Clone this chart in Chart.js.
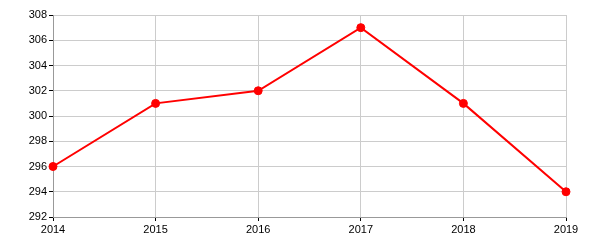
<!DOCTYPE html>
<html>
<head>
<meta charset="utf-8">
<script src="https://cdn.jsdelivr.net/npm/chart.js@4"></script>
<style>
  html, body { margin: 0; padding: 0; background: #fff; }
  #wrap { width: 600px; height: 250px; }
</style>
</head>
<body>
<div id="wrap"><canvas id="myChart"></canvas></div>
<script>
const years = ['2014', '2015', '2016', '2017', '2018', '2019'];
const values = [296, 301, 302, 307, 301, 294];
const yMin = 292;
const yMax = 308;
const yStep = 2;

const ctx = document.getElementById('myChart');

new Chart(ctx, {
  type: 'line',
  data: {
    labels: years,
    datasets: [{
      data: values,
      borderColor: '#ff0000',
      backgroundColor: '#ff0000',
      borderWidth: 2,
      pointRadius: 4,
      pointBorderWidth: 1,
      pointHoverRadius: 4,
      fill: false,
      tension: 0
    }]
  },
  options: {
    responsive: true,
    maintainAspectRatio: false,
    animation: false,
    layout: {
      padding: { top: 15, right: 34, left: 0, bottom: 0 }
    },
    plugins: {
      legend: { display: false },
      tooltip: { enabled: false }
    },
    scales: {
      x: {
        offset: false,
        grid: { color: '#cccccc', tickColor: '#000000', tickLength: 4 },
        border: { color: '#999999' },
        ticks: {
          color: '#000000',
          padding: 2,
          maxRotation: 0,
          font: { family: 'Liberation Sans', size: 11 }
        },
        afterFit: function (scale) { scale.height = 33; }
      },
      y: {
        min: yMin,
        max: yMax,
        grid: { color: '#cccccc', tickColor: '#000000', tickLength: 4 },
        border: { color: '#999999' },
        ticks: {
          stepSize: yStep,
          color: '#000000',
          padding: 2,
          font: { family: 'Liberation Sans', size: 11 }
        },
        afterFit: function (scale) { scale.width = 53; }
      }
    }
  }
});
</script>
</body>
</html>
